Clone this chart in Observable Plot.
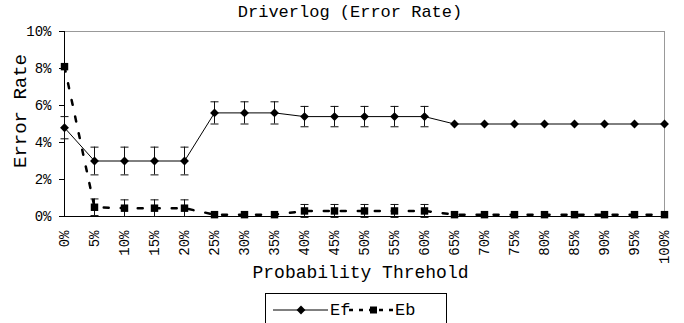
<!DOCTYPE html>
<html><head><meta charset="utf-8">
<script src="https://cdn.jsdelivr.net/npm/d3@7"></script>
<script src="https://cdn.jsdelivr.net/npm/@observablehq/plot@0.6"></script>
<style>
body{margin:0;background:#fff;font-family:"Liberation Mono",monospace;position:relative;width:684px;height:323px;overflow:hidden;}
#title{position:absolute;left:0;top:0;z-index:2;height:26px;line-height:26px;font-size:17px;width:684px;box-sizing:border-box;text-align:center;padding-left:16px;color:#000;}
#legend{position:absolute;left:265px;top:293px;width:182px;height:36px;border:1px solid #000;box-sizing:border-box;background:#fff;z-index:2;}
</style></head><body>
<div id="title">Driverlog (Error Rate)</div>
<div id="chart"></div>
<div id="legend"></div>
<script>
const categories = ["0%","5%","10%","15%","20%","25%","30%","35%","40%","45%","50%","55%","60%","65%","70%","75%","80%","85%","90%","95%","100%"];
const efValues = [4.8,3.0,3.0,3.0,3.0,5.6,5.6,5.6,5.4,5.4,5.4,5.4,5.4,5.0,5.0,5.0,5.0,5.0,5.0,5.0,5.0];
const efErrors = [0.6,0.75,0.75,0.75,0.75,0.6,0.6,0.6,0.55,0.55,0.55,0.55,0.55,0,0,0,0,0,0,0,0];
const ebValues = [8.1,0.5,0.45,0.45,0.45,0.1,0.1,0.1,0.3,0.3,0.3,0.3,0.3,0.1,0.1,0.1,0.1,0.1,0.1,0.1,0.1];
const ebErrors = [0,0.45,0.45,0.45,0.45,0,0,0,0.35,0.35,0.35,0.35,0.35,0,0,0,0,0,0,0,0];
const yTicks = [0,2,4,6,8,10];
const seriesNames = ["Ef","Eb"];

const data = categories.map((c,i)=>({cat:c, ef:efValues[i], efErr:efErrors[i], eb:ebValues[i], ebErr:ebErrors[i]}));
const efBars = data.filter(d=>d.efErr>0);
const ebBars = data.filter(d=>d.ebErr>0);
const cap = {draw(ctx){ctx.moveTo(-4,0);ctx.lineTo(4,0);}};

const chart = Plot.plot({
  width: 684, height: 288,
  marginLeft: 64, marginRight: 20, marginTop: 31, marginBottom: 72,
  style: {fontFamily: "Liberation Mono, monospace", fontSize: "14px", color: "#000", background: "transparent"},
  x: {type: "point", domain: categories, padding: 0},
  y: {domain: [0,10]},
  marks: [
    Plot.ruleY([10], {stroke: "#999"}),
    Plot.ruleX(["100%"], {stroke: "#999"}),
    Plot.ruleY([0], {stroke: "#000"}),
    Plot.ruleX(["0%"], {stroke: "#000"}),
    Plot.axisY({ticks: yTicks, tickFormat: d => d + "%", tickSize: 5, tickPadding: 8, label: null, fontSize: 14}),
    Plot.axisX({tickRotate: -90, tickSize: 0, tickPadding: 14, label: null, fontSize: 14}),
    Plot.text(["Error Rate"], {text: d => d, frameAnchor: "left", rotate: -90, dx: -45, dy: -13, fontSize: 19, textAnchor: "middle", lineAnchor: "middle"}),
    Plot.text(["Probability Threhold"], {text: d => d, frameAnchor: "bottom", dx: -4, dy: 56, fontSize: 18, textAnchor: "middle", lineAnchor: "middle"}),
    // Ef error bars
    Plot.ruleX(efBars, {x: "cat", y1: d => d.ef - d.efErr, y2: d => d.ef + d.efErr, stroke: "#111"}),
    Plot.dot(efBars, {x: "cat", y: d => d.ef + d.efErr, symbol: cap, stroke: "#111", fill: "none", strokeWidth: 1}),
    Plot.dot(efBars, {x: "cat", y: d => d.ef - d.efErr, symbol: cap, stroke: "#111", fill: "none", strokeWidth: 1}),
    // Eb error bars
    Plot.ruleX(ebBars, {x: "cat", y1: d => d.eb - d.ebErr, y2: d => d.eb + d.ebErr, stroke: "#111"}),
    Plot.dot(ebBars, {x: "cat", y: d => d.eb + d.ebErr, symbol: cap, stroke: "#111", fill: "none", strokeWidth: 1}),
    Plot.dot(ebBars, {x: "cat", y: d => d.eb - d.ebErr, symbol: cap, stroke: "#111", fill: "none", strokeWidth: 1}),
    // Ef series
    Plot.line(data, {x: "cat", y: "ef", stroke: "#000", strokeWidth: 1}),
    Plot.dot(data, {x: "cat", y: "ef", symbol: "diamond2", r: 4, fill: "#000", stroke: "none"}),
    // Eb series
    Plot.line(data, {x: "cat", y: "eb", stroke: "#000", strokeWidth: 2.5, strokeDasharray: "5,12"}),
    Plot.dot(data, {x: "cat", y: "eb", symbol: "square", r: 4.2, fill: "#000", stroke: "none"})
  ]
});
document.getElementById("chart").appendChild(chart);

// legend
const lg = d3.select("#legend").append("svg").attr("width", 180).attr("height", 34).style("display","block");
lg.append("line").attr("x1",7).attr("x2",62).attr("y1",16).attr("y2",16).attr("stroke","#000").attr("stroke-width",1);
lg.append("path").attr("d", d3.symbol(d3.symbolDiamond2, 50)()).attr("transform","translate(35,16)").attr("fill","#000");
lg.append("text").attr("x",64).attr("y",16).attr("dominant-baseline","central").attr("font-size",17).attr("font-family","Liberation Mono, monospace").text(seriesNames[0]);
lg.append("line").attr("x1",83).attr("x2",127).attr("y1",16).attr("y2",16).attr("stroke","#000").attr("stroke-width",2.5).attr("stroke-dasharray","4,6");
lg.append("rect").attr("x",104).attr("y",12.5).attr("width",7).attr("height",7).attr("fill","#000");
lg.append("text").attr("x",129).attr("y",16).attr("dominant-baseline","central").attr("font-size",17).attr("font-family","Liberation Mono, monospace").text(seriesNames[1]);
</script>
</body></html>
